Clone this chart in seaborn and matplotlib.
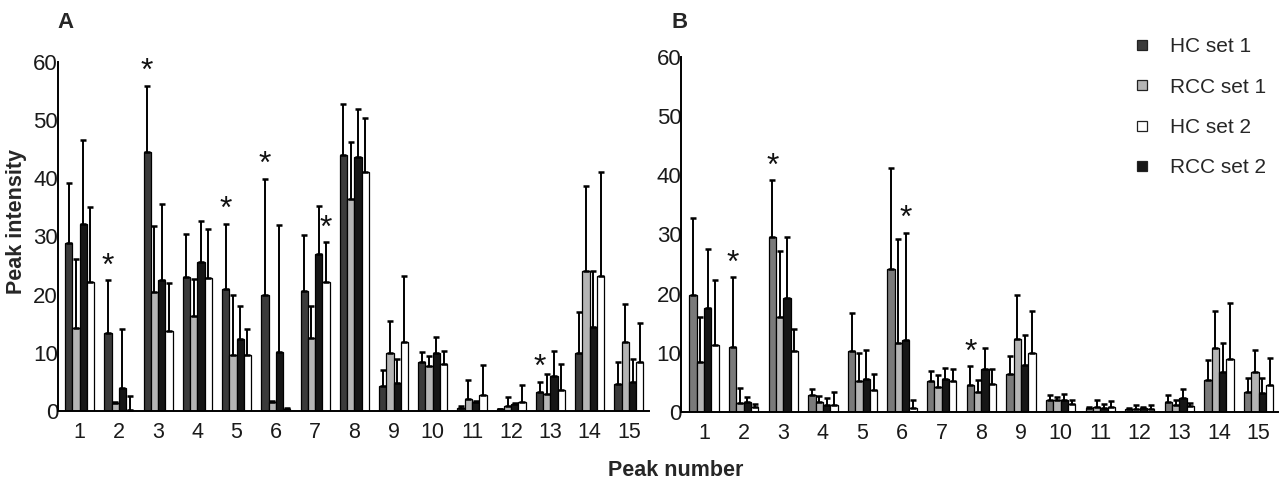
import matplotlib
matplotlib.use("Agg")
import matplotlib.pyplot as plt
from matplotlib.lines import Line2D
from matplotlib.container import BarContainer
import seaborn as sns
import pandas as pd
import numpy as np

peaks = [str(i) for i in range(1, 16)]
groups = ["HC set 1", "RCC set 1", "RCC set 2", "HC set 2"]   # bar order inside a group
legend_order = ["HC set 1", "RCC set 1", "HC set 2", "RCC set 2"]

# panel A - means and SD
a_hc1 = [28.9, 13.4, 44.5, 23.1, 20.9, 19.9, 20.7, 44.0, 4.3, 8.4, 0.5, 0.3, 3.2, 10.0, 4.7]
a_hc1_sd = [10.3, 9.1, 11.4, 7.4, 11.3, 20.0, 9.6, 8.7, 2.7, 1.8, 0.4, 0.1, 1.8, 7.0, 3.7]
a_rcc1 = [14.3, 1.4, 20.5, 16.4, 9.6, 1.6, 12.5, 36.5, 9.9, 7.7, 2.0, 0.9, 2.9, 24.1, 11.9]
a_rcc1_sd = [11.8, 0.2, 11.3, 6.3, 10.4, 0.1, 5.6, 9.8, 5.5, 1.8, 3.4, 1.5, 3.4, 14.6, 6.5]
a_rcc2 = [32.2, 4.0, 22.5, 25.6, 12.4, 10.2, 26.9, 43.7, 4.8, 9.9, 1.5, 1.15, 6.1, 14.5, 5.0]
a_rcc2_sd = [14.3, 10.1, 13.0, 7.0, 5.6, 21.8, 8.3, 8.2, 4.2, 2.8, 0.2, 0.15, 4.2, 9.6, 3.9]
a_hc2 = [22.1, 0.2, 13.7, 22.8, 9.6, 0.3, 22.1, 41.0, 11.8, 8.0, 2.7, 1.55, 3.6, 23.2, 8.5]
a_hc2_sd = [12.9, 2.3, 8.3, 8.4, 4.5, 0.2, 6.9, 9.3, 11.4, 2.3, 5.2, 2.85, 4.4, 17.8, 6.6]

# panel B - means and SD
b_hc1 = [19.7, 11.0, 29.6, 2.8, 10.3, 24.1, 5.2, 4.5, 6.5, 2.1, 0.6, 0.45, 1.7, 5.4, 3.4]
b_hc1_sd = [13.1, 11.8, 9.6, 1.1, 6.5, 17.1, 1.7, 3.2, 2.9, 0.8, 0.2, 0.15, 1.1, 3.4, 2.3]
b_rcc1 = [8.5, 1.6, 16.1, 1.7, 5.2, 11.7, 4.2, 3.4, 12.4, 2.0, 0.9, 0.5, 1.1, 10.8, 6.7]
b_rcc1_sd = [7.6, 2.5, 11.1, 1.0, 4.8, 17.5, 2.1, 2.0, 7.3, 0.5, 1.2, 0.7, 1.0, 6.2, 3.8]
b_rcc2 = [17.6, 1.7, 19.2, 1.2, 5.6, 12.2, 5.6, 7.2, 8.0, 2.0, 0.7, 0.65, 2.3, 6.8, 3.2]
b_rcc2_sd = [9.9, 0.9, 10.3, 1.2, 4.8, 18.1, 1.9, 3.7, 5.0, 1.1, 0.7, 0.15, 1.6, 4.9, 2.5]
b_hc2 = [11.4, 0.9, 10.3, 1.2, 3.8, 0.7, 5.2, 4.7, 9.9, 1.4, 0.9, 0.5, 1.0, 9.0, 4.5]
b_hc2_sd = [10.9, 0.5, 3.7, 2.2, 2.6, 1.4, 2.1, 2.6, 7.2, 0.6, 1.0, 0.7, 0.6, 9.4, 4.7]

# significance stars: (peak, group)
a_stars = [("2", "HC set 1"), ("3", "HC set 1"), ("5", "HC set 1"), ("6", "HC set 1"),
           ("7", "HC set 2"), ("13", "HC set 1")]
b_stars = [("2", "HC set 1"), ("3", "HC set 1"), ("6", "RCC set 2"), ("8", "HC set 1")]

sns.set_style("white")
plt.rcParams["font.family"] = ["Liberation Sans", "DejaVu Sans"]

pal_a = {"HC set 1": "#3b3b3b", "RCC set 1": "#b5b5b5", "RCC set 2": "#161616", "HC set 2": "#ffffff"}
pal_b = {"HC set 1": "#7a7a7a", "RCC set 1": "#b5b5b5", "RCC set 2": "#161616", "HC set 2": "#ffffff"}


def make_df(means, sds):
    rows = []
    for g, m, s in zip(groups, means, sds):
        for p, v, e in zip(peaks, m, s):
            rows.append({"peak": p, "group": g, "value": v, "sd": e})
    return pd.DataFrame(rows)


def draw_panel(ax, df, pal, stars, xlim):
    sns.barplot(data=df, x="peak", y="value", hue="group", order=peaks, hue_order=groups,
                palette=pal, errorbar=None, width=0.74, edgecolor="black", linewidth=0.9,
                saturation=1, legend=False, ax=ax)
    bw = 0.74 / 4
    tops = {}
    bars = [b for c in ax.containers if isinstance(c, BarContainer) for b in c]
    for bar in bars:
        xc = bar.get_x() + bar.get_width() / 2
        k = int(round(xc))
        j = int(round((xc - k) / bw + 1.5))
        row = df[(df.peak == peaks[k]) & (df.group == groups[j])].iloc[0]
        ax.errorbar(xc, row.value, yerr=[[0], [row.sd]], fmt="none", ecolor="black",
                    elinewidth=1.4, capsize=2.4, capthick=1.8, zorder=1)
        tops[(peaks[k], groups[j])] = (xc, row.value + row.sd)
    for key in stars:
        xc, yt = tops[key]
        ax.annotate("*", xy=(xc, yt), xytext=(0, -1), textcoords="offset points",
                    ha="center", va="bottom", fontsize=23, color="#111111")
    ax.set_ylim(0, 60)
    ax.set_xlim(*xlim)
    ax.set_yticks(range(0, 61, 10))
    ax.set_xlabel("")
    ax.set_ylabel("")
    sns.despine(ax=ax)
    for s in ["left", "bottom"]:
        ax.spines[s].set_color("black")
        ax.spines[s].set_linewidth(1.4)
    ax.tick_params(axis="y", length=0, pad=0, labelsize=16, labelcolor="#1a1a1a")
    ax.tick_params(axis="x", which="major", length=0, pad=8, labelsize=15.5, labelcolor="#1a1a1a")
    ax.set_xticks(np.arange(-0.5, 15, 1), minor=True)
    ax.tick_params(axis="x", which="minor", length=4, color="#999999", width=0.8)


fig = plt.figure(figsize=(12.81, 4.87), dpi=100)
ax_a = fig.add_axes([0.0453, 0.156, 0.461, 0.717])
ax_b = fig.add_axes([0.532, 0.154, 0.466, 0.729])

draw_panel(ax_a, make_df([a_hc1, a_rcc1, a_rcc2, a_hc2], [a_hc1_sd, a_rcc1_sd, a_rcc2_sd, a_hc2_sd]),
           pal_a, a_stars, (-0.55, 14.45))
draw_panel(ax_b, make_df([b_hc1, b_rcc1, b_rcc2, b_hc2], [b_hc1_sd, b_rcc1_sd, b_rcc2_sd, b_hc2_sd]),
           pal_b, b_stars, (-0.57, 14.42))

fig.text(66 / 1281, 1 - 23 / 487, "A", ha="center", va="center", fontsize=16, weight="bold")
fig.text(680 / 1281, 1 - 23 / 487, "B", ha="center", va="center", fontsize=16, weight="bold")
fig.text(17 / 1281, 1 - 222 / 487, "Peak intensity", rotation=90, ha="center", va="center",
         fontsize=15.5, weight="bold")
fig.text(676 / 1281, 1 - 470 / 487, "Peak number", ha="center", va="center", fontsize=15.5, weight="bold")

leg_cols = {"HC set 1": "#3b3b3b", "RCC set 1": "#b5b5b5", "HC set 2": "#ffffff", "RCC set 2": "#161616"}
handles = [Line2D([], [], linestyle="none", marker="s", markersize=7, markerfacecolor=leg_cols[g],
                  markeredgecolor="#222222", markeredgewidth=0.9) for g in legend_order]
fig.legend(handles, legend_order, loc="upper left", bbox_to_anchor=(1122 / 1281, 1 - 27 / 487),
           frameon=False, fontsize=15, handlelength=0.9, handletextpad=0.9, labelspacing=1.02,
           borderpad=0)

fig.savefig("out.png", dpi=100)
